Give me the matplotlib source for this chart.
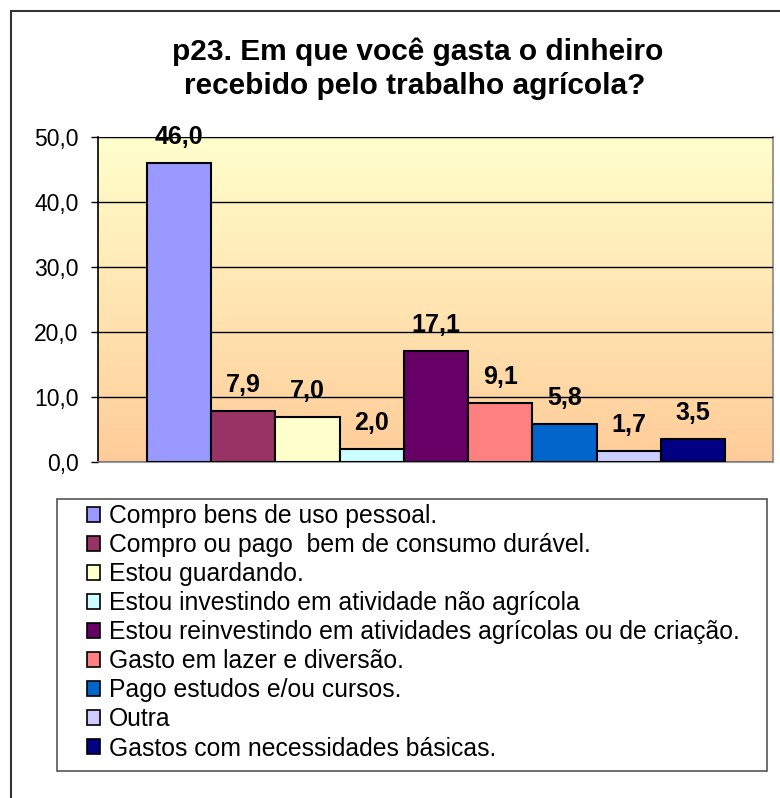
import numpy as np
import matplotlib.pyplot as plt
import matplotlib.patches as patches
from matplotlib.colors import LinearSegmentedColormap

plt.rcParams['font.family'] = ['Liberation Sans', 'DejaVu Sans']

# data
categorias = ['Compro bens de uso pessoal.',
              'Compro ou pago  bem de consumo durável.',
              'Estou guardando.',
              'Estou investindo em atividade não agrícola',
              'Estou reinvestindo em atividades agrícolas ou de criação.',
              'Gasto em lazer e diversão.',
              'Pago estudos e/ou cursos.',
              'Outra',
              'Gastos com necessidades básicas.']
valores = [46.0, 7.9, 7.0, 2.0, 17.1, 9.1, 5.8, 1.7, 3.5]
cores = ['#9999FF', '#993366', '#FFFFCC', '#CCFFFF', '#660066',
         '#FF8080', '#0066CC', '#CCCCFF', '#000080']
titulo = ['p23. Em que você gasta o dinheiro',
          'recebido pelo trabalho agrícola?']

W, H = 780, 798
fig = plt.figure(figsize=(W / 100, H / 100), dpi=100)
fig.patch.set_facecolor('white')

# outer chart frame (cropped on the right and bottom)
fig.add_artist(patches.Rectangle((11 / W, -0.1), 1.2, (H - 11) / H + 0.1,
                                 transform=fig.transFigure, fill=False,
                                 edgecolor='#333333', linewidth=1.5))

ax = fig.add_axes([98 / W, (H - 462) / H, 675 / W, (462 - 137) / H])

# gradient background
grad = np.linspace(0, 1, 256).reshape(-1, 1)
cmap = LinearSegmentedColormap.from_list('bg', ['#FFFFCC', '#FFCC99'])
ax.imshow(grad, aspect='auto', cmap=cmap, extent=[0, 1, 0, 1],
          transform=ax.transAxes, zorder=0)

x = np.arange(len(valores))
ax.bar(x, valores, width=1.0, color=cores, edgecolor='black',
       linewidth=1.5, zorder=3)
for xi, v in zip(x, valores):
    ax.annotate(f'{v:.1f}'.replace('.', ','), (xi, v), xytext=(0, 19),
                textcoords='offset pixels', ha='center', va='baseline',
                fontsize=18, fontweight='bold', zorder=4)

ax.set_xlim(-1.263, 9.248)
ax.set_ylim(0, 50)
ax.set_yticks(np.arange(0, 51, 10))
ax.set_yticklabels([f'{t:.1f}'.replace('.', ',') for t in np.arange(0, 51, 10)],
                   fontsize=16.5)
ax.set_xticks([])
ax.yaxis.grid(True, color='black', linewidth=1)
ax.set_axisbelow(False)
ax.tick_params(axis='y', length=5, width=1, direction='out', pad=9)
for l in ax.get_ygridlines():
    l.set_zorder(1)
ax.spines['left'].set_color('black')
ax.spines['left'].set_linewidth(1.2)
for s in ['right', 'bottom']:
    ax.spines[s].set_color('#999999')
    ax.spines[s].set_linewidth(1.5)
ax.spines['top'].set_color('#555555')

fig.text(418 / W, (H - 60) / H, titulo[0], ha='center', va='baseline',
         fontsize=21.5, fontweight='bold')
fig.text(415 / W, (H - 94) / H, titulo[1], ha='center', va='baseline',
         fontsize=21.5, fontweight='bold')

# legend box
fig.add_artist(patches.Rectangle((57 / W, (H - 771) / H), 710 / W, 272 / H,
                                 transform=fig.transFigure, fill=False,
                                 edgecolor='#555555', linewidth=1.2))
handles = [patches.Patch(facecolor=c, edgecolor='black', linewidth=1.2)
           for c in cores]
leg = fig.legend(handles, categorias, loc='upper left',
                 bbox_to_anchor=(87 / W, (H - 504) / H), fontsize=17.8,
                 frameon=False, handlelength=0.53, handleheight=0.53,
                 handletextpad=0.36, labelspacing=0.205,
                 borderpad=0, borderaxespad=0)

fig.savefig('out.png', dpi=100)
